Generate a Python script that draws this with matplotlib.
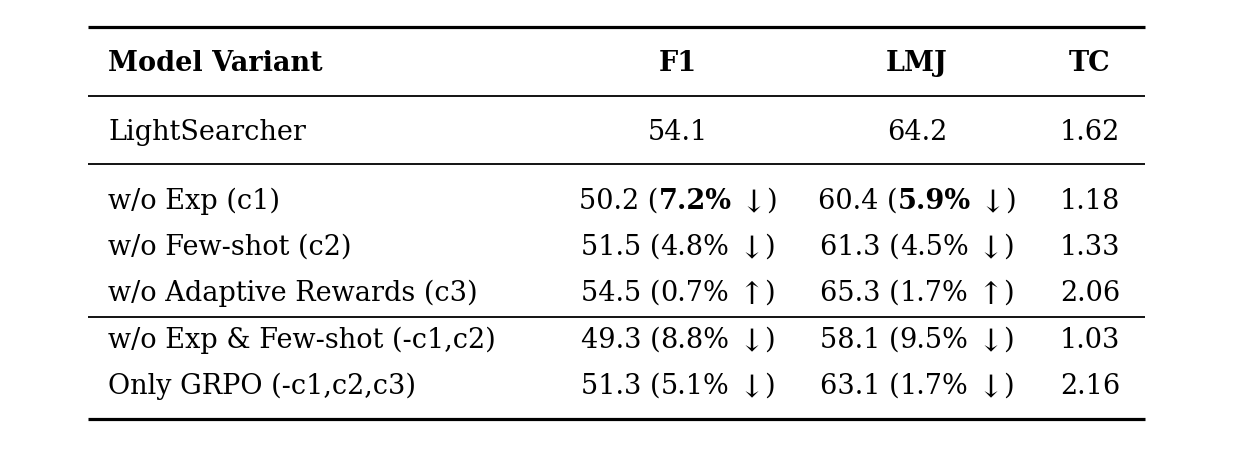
import matplotlib
matplotlib.use('Agg')
import matplotlib.pyplot as plt

# table content
headers = ['Model Variant', 'F1', 'LMJ', 'TC']
variants = ['LightSearcher', 'w/o Exp (c1)', 'w/o Few-shot (c2)', 'w/o Adaptive Rewards (c3)',
            'w/o Exp & Few-shot (-c1,c2)', 'Only GRPO (-c1,c2,c3)']
f1 = [54.1, 50.2, 51.5, 54.5, 49.3, 51.3]
f1_change = [None, 7.2, 4.8, 0.7, 8.8, 5.1]
lmj = [64.2, 60.4, 61.3, 65.3, 58.1, 63.1]
lmj_change = [None, 5.9, 4.5, 1.7, 9.5, 1.7]
direction = [None, 'down', 'down', 'up', 'down', 'down']
tc = [1.62, 1.18, 1.33, 2.06, 1.03, 2.16]
bold_change = [False, True, False, False, False, False]

FAM = ['DejaVu Serif']
FS = 19.5

header_base = 71
row_base = [140, 209, 255, 301, 348, 394]
col_x = [108, 678, 917, 1090]

fig = plt.figure(figsize=(12.6, 4.52), dpi=100)
ax = fig.add_axes([0, 0, 1, 1])
ax.set_xlim(0, 1260)
ax.set_ylim(452, 0)
ax.axis('off')

# rules
ax.hlines([28, 420], 88, 1145, colors='black', linewidth=2.3)
ax.hlines([97, 165, 318], 88, 1145, colors='black', linewidth=1.3)

# header
for i, h in enumerate(headers):
    ax.text(col_x[i], header_base, h, ha='left' if i == 0 else 'center', va='baseline',
            fontsize=FS, fontweight='bold', family=FAM)

fig.canvas.draw()
renderer = fig.canvas.get_renderer()


def width_of(s, bold=False, size=FS):
    t = ax.text(0, 0, s, fontsize=size, family=FAM, fontweight='bold' if bold else 'normal')
    w = t.get_window_extent(renderer).width
    t.remove()
    return w


space_w = width_of('n n') - width_of('nn')


def cell(xc, y, runs):
    # runs: list of (text, bold, gap_before, size, drop)
    widths = [width_of(s, b, sz) for s, b, g, sz, d in runs]
    total = sum(widths) + sum(space_w for r in runs if r[2])
    x = xc - total / 2
    for (s, b, gap, sz, drop), w in zip(runs, widths):
        if gap:
            x += space_w
        ax.text(x, y + drop, s, ha='left', va='baseline', fontsize=sz, family=FAM,
                fontweight='bold' if b else 'normal')
        x += w


for r, name in enumerate(variants):
    y = row_base[r]
    ax.text(col_x[0], y, name, ha='left', va='baseline', fontsize=FS, family=FAM)
    arrow = {'down': '\u2193', 'up': '\u2191', None: ''}[direction[r]]
    for ci, vals, ch in [(1, f1, f1_change), (2, lmj, lmj_change)]:
        if ch[r] is None:
            ax.text(col_x[ci], y, f'{vals[r]:.1f}', ha='center', va='baseline',
                    fontsize=FS, family=FAM)
        else:
            cell(col_x[ci], y, [(f'{vals[r]:.1f} (', False, False, FS, 0),
                                (f'{ch[r]:.1f}%', bold_change[r], False, FS, 0),
                                (arrow, False, True, FS * 1.15, 3),
                                (')', False, False, FS, 0)])
    ax.text(col_x[3], y, f'{tc[r]:.2f}', ha='center', va='baseline', fontsize=FS, family=FAM)

fig.savefig('out.png', dpi=100)
